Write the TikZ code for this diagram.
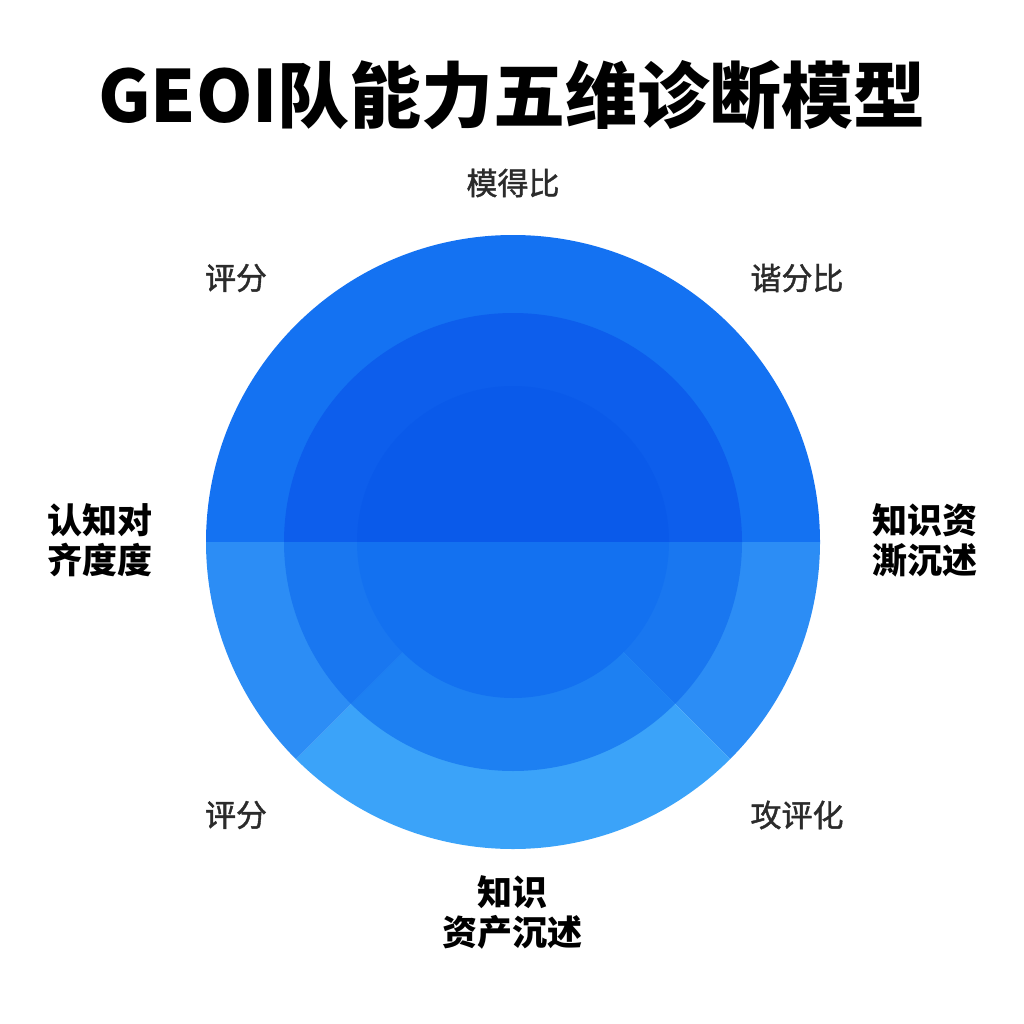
\documentclass[tikz,border=0pt]{standalone}
\usepackage{fontspec}
\newfontfamily\cjk{Noto Sans CJK SC}
\newfontfamily\cjkm{Noto Sans CJK SC}[FakeBold=1.3]
\definecolor{otop}{HTML}{1472F2}
\definecolor{oside}{HTML}{2C8DF5}
\definecolor{obot}{HTML}{3BA3F9}
\definecolor{mtop}{HTML}{0D5EEC}
\definecolor{mside}{HTML}{1977F0}
\definecolor{mbot}{HTML}{1D80F2}
\definecolor{itop}{HTML}{0A5AEA}
\definecolor{ibot}{HTML}{1371F0}
\definecolor{lblgray}{HTML}{2B2B2B}
\tikzset{
  lbl/.style={font=\cjkm\fontsize{31}{36}\selectfont, text=lblgray, inner sep=0pt},
  blbl/.style={font=\cjk\bfseries\fontsize{35}{40}\selectfont, text=black, align=center, inner sep=0pt},
  ttl/.style={font=\cjk\bfseries\fontsize{72}{80}\selectfont, text=black, inner sep=0pt}
}
\begin{document}
\begin{tikzpicture}[x=1pt,y=-1pt]
\fill[white] (0,0) rectangle (1024,1024);
\useasboundingbox (0,0) rectangle (1024,1024);
\coordinate (c) at (513,542);
% outer ring sectors (y axis flipped)
\fill[otop] (c) -- ++(180:307) arc[start angle=180,end angle=360,radius=307] -- cycle;
\fill[oside] (c) -- ++(0:307) arc[start angle=0,end angle=45,radius=307] -- cycle;
\fill[obot] (c) -- ++(45:307) arc[start angle=45,end angle=135,radius=307] -- cycle;
\fill[oside] (c) -- ++(135:307) arc[start angle=135,end angle=180,radius=307] -- cycle;
% middle ring
\fill[mtop] (c) -- ++(180:229) arc[start angle=180,end angle=360,radius=229] -- cycle;
\fill[mside] (c) -- ++(0:229) arc[start angle=0,end angle=45,radius=229] -- cycle;
\fill[mbot] (c) -- ++(45:229) arc[start angle=45,end angle=135,radius=229] -- cycle;
\fill[mside] (c) -- ++(135:229) arc[start angle=135,end angle=180,radius=229] -- cycle;
% inner circle
\fill[itop] (c) -- ++(180:156) arc[start angle=180,end angle=360,radius=156] -- cycle;
\fill[ibot] (c) -- ++(0:156) arc[start angle=0,end angle=180,radius=156] -- cycle;
% title
\node[ttl] (title) at (512,95) {GEOI队能力五维诊断模型};
% labels
\node[lbl] (l1) at (513,183) {模得比};
\node[lbl] (l2) at (236,278) {评分};
\node[lbl] (l3) at (797,278) {谐分比};
\node[blbl] (l4) at (100,540) {认知对\\齐度度};
\node[blbl] (l5) at (925,540) {知识资\\澌沉述};
\node[lbl] (l6) at (236,815) {评分};
\node[lbl] (l7) at (797,815) {攻评化};
\node[blbl] (l8) at (512,912) {知识\\资产沉述};
\end{tikzpicture}
\end{document}
